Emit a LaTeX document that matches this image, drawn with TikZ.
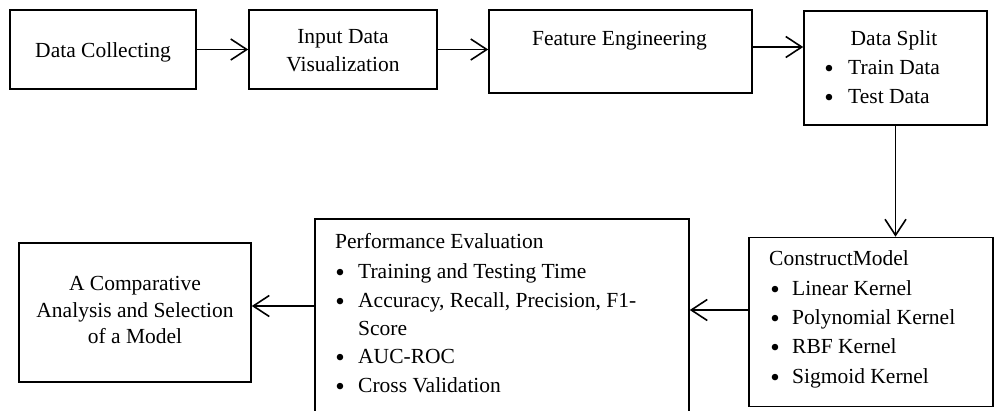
\documentclass[tikz,border=0pt]{standalone}
\usepackage{fontspec}
\setmainfont{Liberation Serif}
\usetikzlibrary{arrows.meta}

\begin{document}
\begin{tikzpicture}[x=1pt,y=-1pt,
  box/.style={draw, line width=1.6pt, rectangle, inner sep=0pt},
  txt/.style={inner sep=0pt, font=\fontsize{21.5}{28}\selectfont},
  dot/.style={inner sep=0pt, font=\fontsize{27}{28}\selectfont},
  flow/.style={line width=1.6pt,
    -{Straight Barb[length=16pt,width=21pt,line width=1.6pt]}}]

\useasboundingbox (0,0) rectangle (995,410);
\clip (0,0) rectangle (995,410);

% ---- boxes ----
\node[box, minimum width=186pt, minimum height=79pt]  (collect) at (103,49.5) {};
\node[box, minimum width=188pt, minimum height=79pt]  (visual)  at (343,49.5) {};
\node[box, minimum width=263pt, minimum height=83pt]  (feature) at (620.5,51.5) {};
\node[box, minimum width=183pt, minimum height=114pt] (split)   at (895.5,68) {};
\node[box, minimum width=244pt, minimum height=169pt] (model)   at (871,322) {};
\node[box, minimum width=374pt, minimum height=201pt] (perf)    at (502,319.5) {};
\node[box, minimum width=232pt, minimum height=139pt] (compare) at (135,312.5) {};

% ---- box texts ----
\node[txt, anchor=base] (collect-t) at (103,57) {Data Collecting};
\node[txt, anchor=base] (visual-t1) at (343,43) {Input Data};
\node[txt, anchor=base] (visual-t2) at (343,71) {Visualization};
\node[txt, anchor=base] (feature-t) at (619.5,45) {Feature Engineering};

\node[txt, anchor=base] (split-t) at (894,45) {Data Split};
\foreach \y/\t [count=\i] in {74/Train Data, 103/Test Data} {
  \node[dot] (split-b\i) at (829,\y-2.4) {\textbullet};
  \node[txt, anchor=base west] (split-i\i) at (848,\y) {\t};
}

\node[txt, anchor=base west] (model-t) at (769,265.5) {ConstructModel};
\foreach \y/\t [count=\i] in {295/Linear Kernel, 324/Polynomial Kernel,
                              353/RBF Kernel, 383/Sigmoid Kernel} {
  \node[dot] (model-b\i) at (775,\y-2.4) {\textbullet};
  \node[txt, anchor=base west] (model-i\i) at (792,\y) {\t};
}

\node[txt, anchor=base west] (perf-t) at (335,248) {Performance Evaluation};
\foreach \y/\t [count=\i] in {278/Training and Testing Time,
                              307/{Accuracy, Recall, Precision, F1-},
                              363/AUC-ROC, 392/Cross Validation} {
  \node[dot] (perf-b\i) at (340,\y-2.4) {\textbullet};
  \node[txt, anchor=base west] (perf-i\i) at (358,\y) {\t};
}
\node[txt, anchor=base west] (perf-i2b) at (358,335) {Score};

\node[txt, anchor=base] (compare-t1) at (135,290) {A Comparative};
\node[txt, anchor=base] (compare-t2) at (135,317) {Analysis and Selection};
\node[txt, anchor=base] (compare-t3) at (135,343) {of a Model};

% ---- connectors ----
\draw[flow] (collect.east) -- (visual.west);
\draw[flow] (visual.east) -- (visual.east -| feature.west);
\draw[flow] ([yshift=4.5pt]feature.east) -- ([yshift=4.5pt]feature.east -| split.west);
\draw[flow] (split.south) -- (split.south |- model.north);
\draw[flow] ([yshift=12pt]model.west) -- ([yshift=12pt]model.west -| perf.east);
\draw[flow] ([yshift=13.5pt]perf.west) -- ([yshift=13.5pt]perf.west -| compare.east);

\end{tikzpicture}
\end{document}
